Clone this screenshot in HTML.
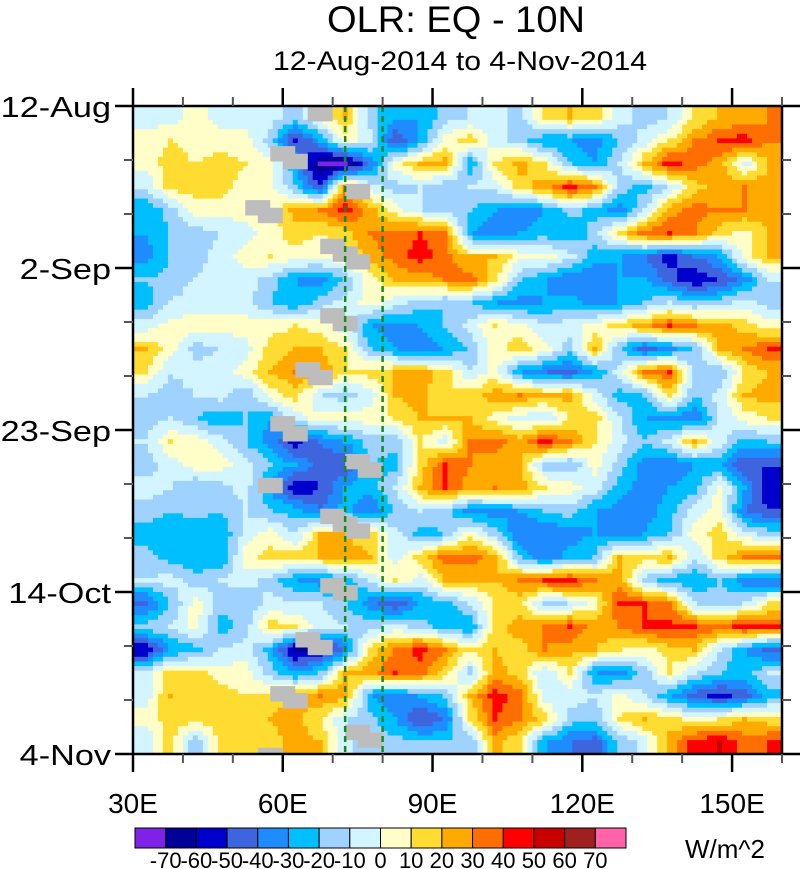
<!DOCTYPE html>
<html><head><meta charset="utf-8"><style>
html,body{margin:0;padding:0;background:#fff;}
svg{display:block;font-family:"Liberation Sans",Arial,sans-serif;}
</style></head><body>
<svg id="chart" width="800" height="869" viewBox="0 0 800 869" xmlns="http://www.w3.org/2000/svg">
<text x="456" y="32" font-size="37" text-anchor="middle" textLength="258" lengthAdjust="spacingAndGlyphs">OLR: EQ - 10N</text>
<text x="460" y="70" font-size="27" text-anchor="middle" textLength="374" lengthAdjust="spacingAndGlyphs">12-Aug-2014 to 4-Nov-2014</text>
<g id="field"></g>
<g id="missing"></g>
<g id="refs"></g>
<g id="axes"></g>
<g id="cbar"></g>
<text x="685" y="858" font-size="26" textLength="80" lengthAdjust="spacingAndGlyphs">W/m^2</text>
</svg>
<script>
// ---- data ----
const lonStart = 30, lonStep = 5;
const dayStep = 3;
const levels = [-70,-60,-50,-40,-30,-20,-10,0,10,20,30,40,50,60,70];
const levelColors = ["#7f22e8","#000096","#0000cd","#3e64de","#1e8cff","#00bfff","#a0d2ff","#d2f5ff","#fffdc8","#ffdc32","#ffaa00","#ff6e00","#ff0000","#c80000","#a02020","#ff64aa"];
const yTickLabels = ["12-Aug","2-Sep","23-Sep","14-Oct","4-Nov"];
const yTickDays = [0,21,42,63,84];
const xTickLabels = ["30E","60E","90E","120E","150E"];
const xTickLons = [30,60,90,120,150];
const refLons = [72.5,80];
const missingLon = [65,57.5,60,72.5,52.5,55,67.5,70,72.5,67.5,70,62.5,65,57.5,60,72.5,75,55,67.5,70,72.5,67.5,70,62.5,65,57.5,60,72.5,75,55];
const missingDay = [0,5.2,6.2,10.1,12.2,13.2,17.2,18.2,19.2,26.2,27.2,33.2,34.2,40.2,41.5,45.1,46.2,48.2,52.2,53.2,54.1,61.2,62.1,68.2,69.2,75.2,76.1,80.2,81.2,83.2];
const olr = [
[-5,-5,5,-5,-5,-5,-15,5,20,-15,-30,-30,-15, -10,-5,-15,15,20,15,-5,-15,-10,10,20,25,30],
[5,10,5,5,5,-15,-55,-30,5,-5,-50,-30,5, 15,-5,-15,-30,-30,-35,-20,-5,10,30,40,45,30],
[5,15,10,15,10,5,-30,-75,-75,-40,5,20,25, -30,10,25,10,-20,-30,-10,20,45,35,25,-5,20],
[-10,15,15,15,5,5,-20,-50,30,-5,-15,-10,-20, -10,-5,15,25,45,30,-15,-25,-10,15,25,30,25],
[-30,-15,5,5,5,5,25,30,45,25,5,-10,-15, -20,-30,-40,-30,-15,-25,-35,-10,25,35,30,30,25],
[-30,-20,-15,-10,-5,5,15,10,15,30,35,40,30, -30,-35,-30,-25,-30,-15,15,35,40,30,15,5,20],
[-35,-20,-15,-5,5,10,5,5,10,25,35,45,35, 20,20,5,5,-5,-25,-30,-40,-55,-40,-30,5,20],
[-20,-15,-10,-5,-5,-15,-30,-35,-20,5,20,25,30, 35,15,-20,-30,-40,-40,-30,-30,-45,-60,-50,-35,-10],
[-25,-10,-5,-5,-5,-20,-30,-15,-5,5,-5,-15,-20, -20,-30,-35,-30,-25,-35,-30,-20,-10,-20,-15,-5,-15],
[-5,5,5,5,5,5,10,5,-5,-30,-35,-30,-20, -5,10,5,-10,-5,5,15,25,40,30,25,15,5],
[20,5,-15,-10,-5,15,20,20,10,-20,-30,-40,-30, -20,5,15,5,-15,20,-20,-45,-35,-20,20,30,40],
[10,-10,-5,-5,5,20,30,30,10,15,20,25,15, -10,5,-30,-40,-45,-30,-5,30,40,-15,-20,10,20],
[-10,-15,-10,-5,-20,5,15,-10,-15,-5,20,25,10, 15,25,30,20,25,-5,-25,-20,15,-20,-5,20,25],
[-15,-10,-20,-30,-20,-30,-5,5,5,5,10,20,20, 20,5,-5,-10,10,15,-10,-30,-35,-40,-10,5,10],
[-10,10,5,-5,-20,-35,-55,-40,-30,-15,-15,10,-5, 30,35,25,45,30,10,-5,-20,-5,20,-5,-25,-20],
[-15,-5,5,5,-5,-20,-30,-45,-50,-20,-25,15,40, 30,25,20,-15,-20,5,-15,-35,-40,-30,-30,-50,-50],
[-5,-10,-20,-15,-5,-30,-60,-50,-30,-25,-10,20,40, 25,30,25,10,5,-5,-25,-35,-30,-25,5,-30,-60],
[-15,-20,-15,-20,-10,-20,-25,-40,-25,-40,-20,-10,-15, -35,-35,-30,-20,-15,-30,-35,-35,-25,-5,5,-40,-50],
[-25,-30,-30,-30,-5,5,-10,20,20,15,-5,-25,-20, 5,-15,-40,-40,-35,-30,-35,-30,-20,5,15,-5,-15],
[-15,-25,-30,-30,5,15,15,20,25,20,-5,15,35, 35,25,-20,-40,-25,-20,20,15,20,-10,15,30,30],
[-10,-5,-15,-10,-5,-15,-30,-35,-25,-10,10,-5,20, 20,20,30,40,45,30,25,-15,-25,-30,-20,-35,-40],
[-45,-20,5,-15,-20,-5,-10,-10,-20,-35,-50,-30,-25, -10,10,15,-15,-10,5,40,40,30,-10,-15,-10,10],
[-15,-10,5,-25,-15,15,10,-5,-10,-15,-5,-15,-25, -30,15,25,30,40,25,30,40,45,40,35,45,40],
[-60,-30,-25,-10,-5,-25,-65,-60,-40,15,30,45,30, 10,20,15,30,25,20,10,5,15,20,-10,-30,-45],
[-10,15,15,5,5,-15,-30,-20,20,25,40,35,15, -15,25,15,-10,10,-30,-35,-15,10,-10,-20,-25,-10],
[-5,20,15,15,10,15,20,30,25,-30,-40,-30,-20, 20,45,35,-5,-5,-10,5,-10,-30,-45,-55,-45,-25],
[5,15,15,15,15,20,25,10,-10,-15,-30,-50,-40, 10,40,30,15,-15,-20,10,20,15,5,10,20,15],
[-10,15,-20,15,15,15,25,20,-5,-20,-15,-20,-20, -20,25,10,-30,-40,-45,-20,-5,25,45,50,35,40]
];
// ---- scales ----
const X0=133,X1=782,Y0=106,Y1=754;
const xS = lon => X0 + (lon-30)*(X1-X0)/130;
const yS = day => Y0 + day*(Y1-Y0)/84;
const NS="http://www.w3.org/2000/svg";
function mk(tag,attrs,parent){const e=document.createElementNS(NS,tag);for(const k in attrs)e.setAttribute(k,attrs[k]);parent.appendChild(e);return e;}
function colorFor(v){let i=0;while(i<levels.length&&v>=levels[i])i++;return levelColors[i];}
// ---- field ----
const field=document.getElementById('field');
const nR=olr.length,nC=olr[0].length,sub=5;
function val(r,c){r=Math.max(0,Math.min(nR-1,r));c=Math.max(0,Math.min(nC-1,c));return olr[r][c];}
for(let fr=0;fr<nR*sub;fr++){
  const rr=(fr+0.5)/sub-0.5, r0=Math.floor(rr), tr=rr-r0;
  let runStart=0,runColor=null;
  const row=[];
  for(let fc=0;fc<nC*sub;fc++){
    const cc=(fc+0.5)/sub-0.5, c0=Math.floor(cc), tc=cc-c0;
    const v=(1-tr)*((1-tc)*val(r0,c0)+tc*val(r0,c0+1))+tr*((1-tc)*val(r0+1,c0)+tc*val(r0+1,c0+1));
    row.push(colorFor(v));
  }
  row.push(null);
  const d0=fr*dayStep/sub, d1=(fr+1)*dayStep/sub;
  for(let fc=0;fc<=nC*sub;fc++){
    if(row[fc]!==runColor){
      if(runColor!==null){
        const l0=lonStart+runStart*lonStep/sub, l1=lonStart+fc*lonStep/sub;
        const el=mk('rect',{x:xS(l0).toFixed(2),y:yS(d0).toFixed(2),width:(xS(l1)-xS(l0)+0.6).toFixed(2),height:(yS(d1)-yS(d0)+0.6).toFixed(2),fill:runColor},field);
        
        
      }
      runStart=fc;runColor=row[fc];
    }
  }
}
// ---- missing boxes ----
const miss=document.getElementById('missing');
for(let i=0;i<missingLon.length;i++){
  const x=xS(missingLon[i]), y=yS(missingDay[i]);
  const h=Math.min(yS(missingDay[i]+2),Y1)-y;
  const el=mk('rect',{x:x.toFixed(1),y:y.toFixed(1),width:(xS(missingLon[i]+5)-x).toFixed(1),height:h.toFixed(1),fill:"#bdbdbd"},miss);
  
  
}
// ---- reference dashed lines ----
const refs=document.getElementById('refs');
refLons.forEach(l=>{
  const el=mk('line',{x1:xS(l),x2:xS(l),y1:Y0,y2:Y1,stroke:"#1a8a1a","stroke-width":2.5,"stroke-dasharray":"6,4"},refs);
  
  
});
// ---- axes ----
const ax=document.getElementById('axes');
const frm=mk('rect',{x:X0,y:Y0,width:X1-X0,height:Y1-Y0,fill:"none",stroke:"#000","stroke-width":2.5},ax);


for(let d=0;d<=84;d+=7){
  const major=yTickDays.includes(d), len=major?18:9, col=major?"#000":"#555";
  mk('line',{x1:X0-len,x2:X0,y1:yS(d),y2:yS(d),stroke:col,"stroke-width":major?2.5:2},ax);
  mk('line',{x1:X1,x2:X1+len,y1:yS(d),y2:yS(d),stroke:col,"stroke-width":major?2.5:2},ax);
}
for(let l=30;l<=160;l+=10){
  const major=xTickLons.includes(l), len=major?18:9, col=major?"#000":"#555";
  mk('line',{x1:xS(l),x2:xS(l),y1:Y1,y2:Y1+len,stroke:col,"stroke-width":major?2.5:2},ax);
  mk('line',{x1:xS(l),x2:xS(l),y1:Y0-len,y2:Y0,stroke:col,"stroke-width":major?2.5:2},ax);
}
yTickLabels.forEach((t,i)=>{
  const el=mk('text',{x:111,y:yS(yTickDays[i])+11,"font-size":29,"text-anchor":"end"},ax);
  el.textContent=t;
  
  
  const w=el.getComputedTextLength();
  if(w>0){el.setAttribute('textLength',(w*1.18).toFixed(1));el.setAttribute('lengthAdjust','spacingAndGlyphs');}
});
xTickLabels.forEach((t,i)=>{
  const el=mk('text',{x:xS(xTickLons[i]),y:813,"font-size":28,"text-anchor":"middle"},ax);
  el.textContent=t;
  
  
});
// ---- colorbar ----
const cb=document.getElementById('cbar');
const cbX0=135,cbX1=626,cbY=828,cbH=20,bw=(cbX1-cbX0)/levelColors.length;
levelColors.forEach((c,i)=>{
  const el=mk('rect',{x:cbX0+i*bw,y:cbY,width:bw,height:cbH,fill:c,stroke:"#000","stroke-width":1},cb);
  
  
});
levels.forEach((v,i)=>{
  const el=mk('text',{x:cbX0+(i+1)*bw,y:868,"font-size":22,"text-anchor":"middle"},cb);
  el.textContent=v;
  
  
});
</script>
</body></html>
